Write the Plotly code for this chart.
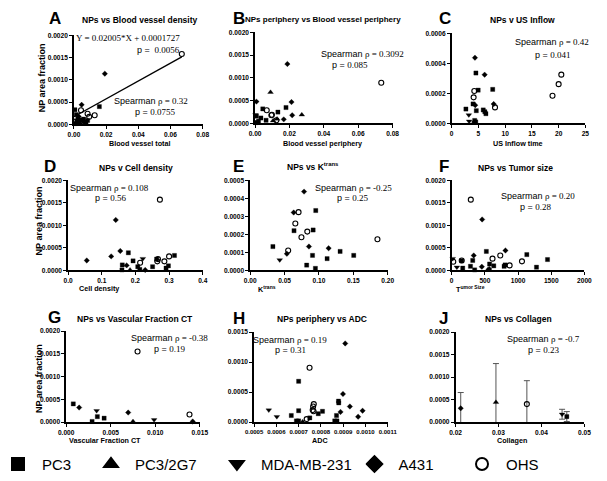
import plotly.graph_objects as go
from plotly.subplots import make_subplots

W, H = 607, 481
SANS = "Liberation Sans, Arial, sans-serif"
SERIF = "Liberation Serif, Times New Roman, serif"

GROUPS = ["PC3", "PC3/2G7", "MDA-MB-231", "A431", "OHS"]

# ---------------- data ----------------
# A: NPs vs Blood vessel density
a_pc3_x = [0.0006, 0.0015, 0.0025, 0.003, 0.0045, 0.006, 0.0075, 0.0085, 0.0158, 0.001, 0.002]
a_pc3_y = [0.00033, 0.00022, 0.00012, 0.00008, 0.0001, 0.00012, 0.00005, 0.00009, 0.0004, 0.00002, 0.00005]
a_2g7_x = [0.004, 0.006]
a_2g7_y = [0.00002, 0.00005]
a_mda_x = [0.0015, 0.0008]
a_mda_y = [0.0001, 0.00003]
a_a431_x = [0.0192, 0.0048, 0.003, 0.007]
a_a431_y = [0.00114, 0.00044, 0.00018, 0.00003]
a_ohs_x = [0.067, 0.0129, 0.0044, 0.0095, 0.0085]
a_ohs_y = [0.00158, 0.000205, 0.00032, 0.00017, 0.00024]
a_fit_slope = 0.02005
a_fit_intercept = 0.0001727
a_fit_x = [0.0, 0.067]

# B: NPs periphery vs Blood vessel periphery
b_pc3_x = [0.018, 0.0045, 0.0133, 0.0008, 0.0034, 0.0064, 0.0005, 0.002]
b_pc3_y = [0.00035, 0.00032, 0.00025, 0.00016, 0.00012, 0.00007, 0.00002, 0.00005]
b_2g7_x = [0.009, 0.0272, 0.0128, 0.0105]
b_2g7_y = [0.000685, 0.00019, 0.0001, 0.00006]
b_mda_x = [0.0003, 0.001]
b_mda_y = [0.00019, 0.00003]
b_a431_x = [0.0188, 0.0008, 0.0212, 0.0216, 0.0167]
b_a431_y = [0.001306, 0.00048, 0.00047, 0.00018, 0.00009]
b_ohs_x = [0.0734, 0.0068, 0.0095, 0.0124, 0.0098]
b_ohs_y = [0.000895, 0.00029, 0.00018, 0.00007, 0.00019]

# C: NPs v US Inflow
c_pc3_x = [4.53, 4.95, 7.67, 3.99, 2.66, 5.9, 6.2, 6.4, 4.6, 4.3, 4.5]
c_pc3_y = [0.000336, 0.000222, 0.000227, 0.00013, 0.000096, 0.00009, 0.000078, 0.000065, 0.000085, 0.00002, 0.00001]
c_mda_x = [3.2, 3.26]
c_mda_y = [0.000057, 0.000015]
c_a431_x = [4.35, 6.16, 4.4, 7.85, 4.2]
c_a431_y = [0.000438, 0.000325, 0.000122, 0.000129, 0.00001]
c_ohs_x = [4.23, 4.1, 8.1, 18.85, 20.0, 20.5]
c_ohs_y = [0.000216, 0.000174, 0.000107, 0.000185, 0.000262, 0.000325]

# D: NPs v Cell density
d_pc3_x = [0.179, 0.316, 0.263, 0.193, 0.161, 0.251, 0.291, 0.298, 0.16, 0.207, 0.213]
d_pc3_y = [0.00039, 0.00033, 0.00025, 0.00021, 0.00012, 0.00008, 0.00005, 0.0001, 0.00001, 0.00008, 0.00002]
d_2g7_x = [0.184]
d_2g7_y = [0.00001]
d_mda_x = [0.222]
d_mda_y = [0.00026]
d_a431_x = [0.1416, 0.155, 0.128, 0.0555, 0.174, 0.229]
d_a431_y = [0.00112, 0.00043, 0.00031, 0.00022, 0.00011, 0.00001]
d_ohs_x = [0.2727, 0.3, 0.267, 0.265, 0.286, 0.214]
d_ohs_y = [0.00157, 0.00031, 0.00025, 0.0002, 0.0002, 0.00017]

# E: NPs vs Ktrans
e_pc3_x = [0.0953, 0.0637, 0.0915, 0.033, 0.1307, 0.0906, 0.1505, 0.1118, 0.0821, 0.0948]
e_pc3_y = [0.000332, 0.00022, 0.000224, 0.000132, 0.000105, 0.000083, 0.000083, 0.000065, 0.000029, 0.000011]
e_mda_x = [0.0429]
e_mda_y = [0.000058]
e_a431_x = [0.0783, 0.0632, 0.0854, 0.114, 0.0533]
e_a431_y = [0.000437, 0.000321, 0.000132, 0.000123, 0.000092]
e_ohs_x = [0.0703, 0.0656, 0.083, 0.0745, 0.185, 0.0552]
e_ohs_y = [0.000323, 0.00026, 0.000215, 0.000184, 0.000173, 0.00011]

# F: NPs vs Tumor size
f_pc3_x = [522, 1132, 1444, 317, 151, 571, 634, 805, 790, 283, 166, 346, 1278]
f_pc3_y = [0.00042, 0.00035, 0.00024, 0.00022, 0.00021, 0.00014, 0.0001, 0.00012, 0.00009, 0.00009, 0.00005, 0.00001, 0.00007]
f_2g7_x = [541]
f_2g7_y = [0.00001]
f_mda_x = [15, 78]
f_mda_y = [0.00026, 0.00007]
f_a431_x = [459, 810, 332, 454, 566]
f_a431_y = [0.00113, 0.00044, 0.00033, 0.00008, 0.00003]
f_ohs_x = [288, 732, 615, 24, 151, 1059, 873]
f_ohs_y = [0.00157, 0.00033, 0.00026, 0.00019, 0.00022, 0.0002, 0.00011]

# G: NPs vs Vascular Fraction CT
g_pc3_x = [0.0008, 0.0035, 0.00426, 0.00291]
g_pc3_y = [0.0004, 0.00012, 0.000087, 0.000014]
g_2g7_x = [0.0075]
g_2g7_y = [0.000014]
g_mda_x = [0.00342, 0.00987]
g_mda_y = [0.00025, 0.00005]
g_a431_x = [0.00146, 0.00696, 0.0142]
g_a431_y = [0.00032, 0.00021, 0.000014]
g_ohs_x = [0.00801, 0.01384]
g_ohs_y = [0.00155, 0.000166]

# H: NPs periphery vs ADC
h_pc3_x = [0.0007, 0.000879, 0.00088, 0.0007, 0.000807, 0.000788, 0.000667, 0.00087, 0.00075, 0.00069, 0.0007, 0.000862, 0.000872]
h_pc3_y = [0.00068, 0.00035, 0.00032, 0.00019, 0.00018, 0.00014, 0.00011, 0.00011, 0.00007, 0.00002, 0.00002, 0.00002, 0.00002]
h_2g7_x = [0.000718]
h_2g7_y = [0.000005]
h_mda_x = [0.000566, 0.000602]
h_mda_y = [0.0002, 0.00009]
h_a431_x = [0.000909, 0.000899, 0.00093, 0.000987, 0.000888, 0.000967]
h_a431_y = [0.00131, 0.00047, 0.00026, 0.00019, 0.00017, 0.00009]
h_ohs_x = [0.000749, 0.000768, 0.000765, 0.000763, 0.000767, 0.000736]
h_ohs_y = [0.000905, 0.0003, 0.00026, 0.0002, 0.00018, 0.00005]

# J: NPs vs Collagen (mean with error)
j_pc3_x, j_pc3_y, j_pc3_e = [0.0459], [0.000124], [0.00011]
j_2g7_x, j_2g7_y, j_2g7_e = [0.0294], [0.00044], [0.00086]
j_mda_x, j_mda_y, j_mda_e = [0.0448], [0.000175], [0.00011]
j_a431_x, j_a431_y, j_a431_e = [0.0212], [0.000307], [0.00035]
j_ohs_x, j_ohs_y, j_ohs_e = [0.0366], [0.0004], [0.00052]

# ---------------- figure ----------------
fig = make_subplots(rows=3, cols=3)

SYMBOL = {"PC3": "square", "PC3/2G7": "triangle-up", "MDA-MB-231": "triangle-down",
          "A431": "diamond", "OHS": "circle-open"}
SIZE = {"PC3": 4.2, "PC3/2G7": 5, "MDA-MB-231": 5, "A431": 4.2, "OHS": 5}
LW = {"PC3": 0.3, "PC3/2G7": 0.3, "MDA-MB-231": 0.3, "A431": 0.3, "OHS": 1.1}
LEGEND_ID = {g: ("legend" if i == 0 else "legend%d" % (i + 1)) for i, g in enumerate(GROUPS)}
shown = set()


def add(row, col, group, xs, ys, err=None):
    show = group not in shown
    shown.add(group)
    kw = {}
    if err is not None:
        kw["error_y"] = dict(type="data", array=err, visible=True, color="#555",
                             thickness=1, width=3)
    fig.add_trace(go.Scatter(
        x=xs, y=ys, mode="markers", name=group, legendgroup=group,
        legend=LEGEND_ID[group], showlegend=show,
        cliponaxis=err is not None,
        marker=dict(symbol=SYMBOL[group], size=SIZE[group], color="black",
                    line=dict(color="black", width=LW[group])),
        **kw), row=row, col=col)


panels = [
    (1, 1, [("PC3", a_pc3_x, a_pc3_y), ("PC3/2G7", a_2g7_x, a_2g7_y), ("MDA-MB-231", a_mda_x, a_mda_y),
            ("A431", a_a431_x, a_a431_y), ("OHS", a_ohs_x, a_ohs_y)]),
    (1, 2, [("PC3", b_pc3_x, b_pc3_y), ("PC3/2G7", b_2g7_x, b_2g7_y), ("MDA-MB-231", b_mda_x, b_mda_y),
            ("A431", b_a431_x, b_a431_y), ("OHS", b_ohs_x, b_ohs_y)]),
    (1, 3, [("PC3", c_pc3_x, c_pc3_y), ("MDA-MB-231", c_mda_x, c_mda_y),
            ("A431", c_a431_x, c_a431_y), ("OHS", c_ohs_x, c_ohs_y)]),
    (2, 1, [("PC3", d_pc3_x, d_pc3_y), ("PC3/2G7", d_2g7_x, d_2g7_y), ("MDA-MB-231", d_mda_x, d_mda_y),
            ("A431", d_a431_x, d_a431_y), ("OHS", d_ohs_x, d_ohs_y)]),
    (2, 2, [("PC3", e_pc3_x, e_pc3_y), ("MDA-MB-231", e_mda_x, e_mda_y),
            ("A431", e_a431_x, e_a431_y), ("OHS", e_ohs_x, e_ohs_y)]),
    (2, 3, [("PC3", f_pc3_x, f_pc3_y), ("PC3/2G7", f_2g7_x, f_2g7_y), ("MDA-MB-231", f_mda_x, f_mda_y),
            ("A431", f_a431_x, f_a431_y), ("OHS", f_ohs_x, f_ohs_y)]),
    (3, 1, [("PC3", g_pc3_x, g_pc3_y), ("PC3/2G7", g_2g7_x, g_2g7_y), ("MDA-MB-231", g_mda_x, g_mda_y),
            ("A431", g_a431_x, g_a431_y), ("OHS", g_ohs_x, g_ohs_y)]),
    (3, 2, [("PC3", h_pc3_x, h_pc3_y), ("PC3/2G7", h_2g7_x, h_2g7_y), ("MDA-MB-231", h_mda_x, h_mda_y),
            ("A431", h_a431_x, h_a431_y), ("OHS", h_ohs_x, h_ohs_y)]),
]
for r, c, series in panels:
    for g, xs, ys in series:
        add(r, c, g, xs, ys)

# regression line in A
fig.add_trace(go.Scatter(x=a_fit_x, y=[a_fit_slope * v + a_fit_intercept for v in a_fit_x],
                         mode="lines", line=dict(color="black", width=1.4),
                         showlegend=False, cliponaxis=False), row=1, col=1)

for g, xs, ys, es in [("PC3", j_pc3_x, j_pc3_y, j_pc3_e), ("PC3/2G7", j_2g7_x, j_2g7_y, j_2g7_e),
                      ("MDA-MB-231", j_mda_x, j_mda_y, j_mda_e), ("A431", j_a431_x, j_a431_y, j_a431_e),
                      ("OHS", j_ohs_x, j_ohs_y, j_ohs_e)]:
    add(3, 3, g, xs, ys, es)

# ---------------- axes ----------------
# (x0px, x1px, ytop_px, ybottom_px, xrange, xdtick, xfmt, yrange, ydtick, yfmt)
axes = [
    (67, 200, 32, 123, [0, 0.08], 0.02, ".2f", [0, 0.002], 0.0005, ".4f"),
    (254, 396, 29, 122, [0, 0.08], 0.02, ".2f", [0, 0.002], 0.0005, ".4f"),
    (457, 595, 30, 122, [0, 25], 5, "d", [0, 0.0006], 0.0002, ".4f"),
    (61, 200, 180, 272, [0, 0.4], 0.1, ".1f", [0, 0.002], 0.0005, ".4f"),
    (249, 391, 180, 272, [0, 0.2], 0.05, ".2f", [0, 0.0005], 0.0001, ".4f"),
    (457, 594, 180, 272, [0, 2000], 500, "d", [0, 0.002], 0.0005, ".4f"),
    (59, 197, 334, 427, [0, 0.015], 0.005, ".3f", [0, 0.002], 0.0005, ".4f"),
    (253, 391, 335, 427, [0.0005, 0.0011], 0.0001, ".4f", [0, 0.0015], 0.0005, ".4f"),
    (461, 594, 335, 427, [0.02, 0.05], 0.01, ".2f", [0, 0.002], 0.0005, ".4f"),
]
tickfont = dict(family=SANS, size=6.6, color="black", weight="bold")
common = dict(showline=True, linecolor="black", linewidth=1.5, ticks="outside", ticklen=3,
              tickwidth=1, tickcolor="black", showgrid=False, zeroline=False, tickfont=tickfont,
              tickangle=0)
for i, (x0, x1, yt, yb, xr, xd, xf, yr, yd, yf) in enumerate(axes, start=1):
    sx = "" if i == 1 else str(i)
    fig.layout["xaxis" + sx].update(domain=[x0 / W, x1 / W], range=xr, tick0=xr[0], dtick=xd,
                                    tickformat=xf, **common)
    fig.layout["yaxis" + sx].update(domain=[1 - yb / H, 1 - yt / H], range=yr, tick0=0, dtick=yd,
                                    tickformat=yf, **common)
fig.layout.xaxis8.tickfont = dict(family=SANS, size=6.0, color="black", weight="bold")

# ---------------- texts ----------------
anns = []


def ann(px, py, text, size, family=SANS, xanchor="center", angle=0):
    anns.append(dict(x=px / W, y=1 - py / H, xref="paper", yref="paper", text=text,
                     showarrow=False, xanchor=xanchor, yanchor="middle", textangle=angle,
                     font=dict(family=family, size=size, color="black")))


letters = [("A", 47, 15), ("B", 237, 15), ("C", 450, 15), ("D", 42, 166), ("E", 237, 166),
           ("F", 449, 166), ("G", 47, 320), ("H", 237, 321), ("J", 449, 321)]
for t, x, y in letters:
    ann(x, y, "<b>%s</b>" % t, 17)

titles = [("NPs vs Blood vessel density", 135, 16, 8.5), ("NPs periphery vs Blood vessel periphery", 324, 16, 8.0),
          ("NPs v US Inflow", 530, 16, 8.5), ("NPs v Cell density", 131, 167, 8.5),
          ("NPs vs K<sup>trans</sup>", 314, 166, 8.5), ("NPs vs Tumor size", 523, 167, 8.5),
          ("NPs vs Vascular Fraction CT", 130, 322, 8.5), ("NPs periphery vs ADC", 323, 322, 8.5),
          ("NPs vs Collagen", 526, 322, 8.5)]
for t, x, y, s in titles:
    ann(x, y, "<b>%s</b>" % t, s)

xtitles = [("Blood vessel total", 135, 142, "center"), ("Blood vessel periphery", 324, 142, "center"),
           ("US Inflow time", 525, 142, "center"), ("Cell density", 70, 291, "left"),
           ("K<sup>trans</sup>", 255, 291, "left"), ("T<sup>umor Size</sup>", 459, 291, "left"),
           ("Vascular Fraction CT", 99, 446, "center"), ("ADC", 321, 446, "center"),
           ("Collagen", 519, 446, "center")]
for t, x, y, xa in xtitles:
    ann(x, y, "<b>%s</b>" % t, 7.2, xanchor=xa)

for x, y in [(35, 75), (31, 222), (31, 383)]:
    ann(x, y, "<b>NP area fraction</b>", 9, angle=-90)


def sp(rho):
    return 'Spearman <span style="font-family:%s">\u03c1 = %s</span>' % (SERIF, rho)


def pv(p):
    return 'p = <span style="font-family:%s">%s</span>' % (SERIF, p)


stats = [
    (147, 99, sp("0.32")), (151, 110, pv("0.0755")),
    (365, 51, sp("0.3092")), (352, 62, pv("0.085")),
    (561, 39, sp("0.42")), (562, 52, pv("0.041")),
    (104, 188, sp("0.108")), (105, 198, pv("0.56")),
    (356, 188, sp("-0.25")), (355, 198, pv("0.25")),
    (546, 196, sp("0.20")), (544, 207, pv("0.28")),
    (166, 341, sp("-0.38")), (166, 352, pv("0.19")),
    (290, 343, sp("0.19")), (291, 353, pv("0.31")),
    (552, 342, sp("-0.7")), (552, 353, pv("0.23")),
]
for x, y, t in stats:
    ann(x, y, t, 9)
ann(123, 35, "Y = 0.02005*X + 0.0001727", 9, family=SERIF)
ann(154, 47, 'p = <span style="font-family:%s"> 0.0056</span>' % SERIF, 9)

# one single-entry legend per cell line, placed where the reference shows it
legend_x_px = [0, 96, 226, 368, 479]
leg_common = dict(orientation="h", xanchor="left", y=1 - 470 / H, yanchor="middle",
                  font=dict(family=SANS, size=15, color="black"), itemsizing="constant",
                  itemwidth=38, bgcolor="rgba(0,0,0,0)", indentation=-15)
legends = {}
for g, xp in zip(GROUPS, legend_x_px):
    legends[LEGEND_ID[g]] = dict(x=xp / W, **leg_common)

fig.update_layout(
    width=W, height=H, margin=dict(l=0, r=0, t=0, b=0),
    paper_bgcolor="white", plot_bgcolor="white", annotations=anns,
    **legends,
)

fig.write_html("out.html", config={"displayModeBar": False},
               post_script="document.body.style.margin='0';")
